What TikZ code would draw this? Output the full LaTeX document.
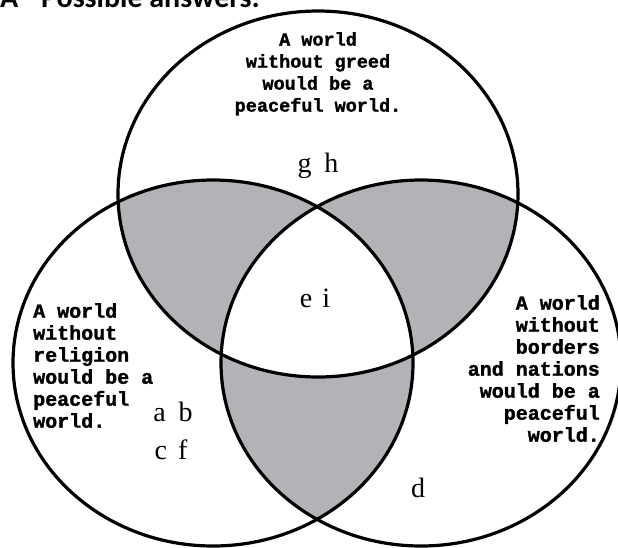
\documentclass[tikz,border=0pt]{standalone}
\usepackage{fontspec}
\setmainfont{Liberation Serif}
\newfontfamily\monof[BoldFeatures={FakeBold=1.5}]{Liberation Mono}
\newfontfamily\titlef{Carlito}
\definecolor{vennfill}{RGB}{177,179,182}
\tikzset{
  ring/.style={line width=3.2pt, draw=black},
  monotext/.style={inner sep=0pt, font=\monof\bfseries\fontsize{20}{22}\selectfont},
  letters/.style={inner sep=0pt, anchor=base, font=\fontsize{28}{28}\selectfont},
}
\begin{document}
\begin{tikzpicture}[x=1pt,y=-1pt]
\useasboundingbox (0,0) rectangle (618,547);
% shaded pairwise overlaps
\begin{scope}
  \clip (318,194) ellipse [x radius=200, y radius=183];
  \fill[vennfill] (213,363) ellipse [x radius=200, y radius=183];
  \fill[vennfill] (421,363) ellipse [x radius=200, y radius=183];
\end{scope}
\begin{scope}
  \clip (213,363) ellipse [x radius=200, y radius=183];
  \fill[vennfill] (421,363) ellipse [x radius=200, y radius=183];
\end{scope}
% triple overlap white
\begin{scope}
  \clip (318,194) ellipse [x radius=200, y radius=183];
  \clip (213,363) ellipse [x radius=200, y radius=183];
  \fill[white] (421,363) ellipse [x radius=200, y radius=183];
\end{scope}
% outlines
\draw[ring] (318,194) ellipse [x radius=200, y radius=183];
\draw[ring] (213,363) ellipse [x radius=200, y radius=183];
\draw[ring] (421,363) ellipse [x radius=200, y radius=183];
% title
\node[anchor=base west, inner sep=0pt, font=\titlef\bfseries\fontsize{30}{30}\selectfont] (title) at (0,7) {A - Possible answers:};
% texts
\node[monotext, anchor=north, align=center, font=\monof\bfseries\fontsize{18.5}{22}\selectfont] (toptext) at (318,32) {A world\\without greed\\would be a\\peaceful world.};
\node[monotext, anchor=north west, align=left] (lefttext) at (33,303) {A world\\without\\religion\\would be a\\peaceful\\world.};
\node[monotext, anchor=north east, align=right] (righttext) at (600,295) {A world\\without\\borders\\and nations\\would be a\\peaceful\\world.};
% letters
\node[letters] (gh) at (318,172) {g\hspace{13pt}h};
\node[letters] (ei) at (315,307) {e\hspace{10pt}i};
\node[letters] (ab) at (173,421) {a\hspace{13pt}b};
\node[letters] (cf) at (171,459) {c\hspace{11pt}f};
\node[letters] (d) at (418,497) {d};
\end{tikzpicture}
\end{document}
